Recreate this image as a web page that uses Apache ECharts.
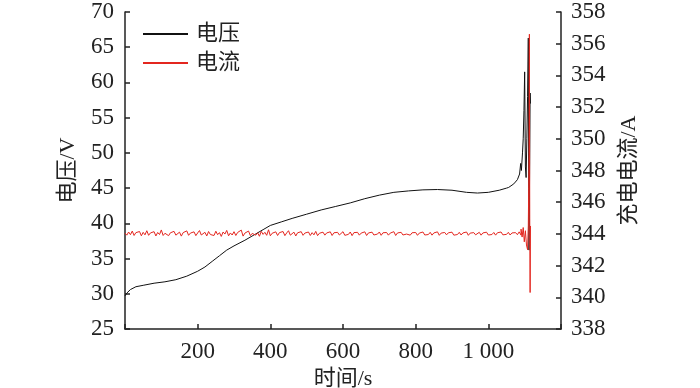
<!DOCTYPE html>
<html><head><meta charset="utf-8">
<script src="https://cdn.jsdelivr.net/npm/echarts@6/dist/echarts.min.js"></script>
<style>html,body{margin:0;padding:0;background:#fff}#c{width:700px;height:388px}</style>
</head><body><div id="c"></div>
<script>
var FONT = '"Liberation Serif", "Noto Sans CJK SC", serif';
var xTicks = [200, 400, 600, 800, 1000];
var xTickLabels = ['200', '400', '600', '800', '1 000'];
var seriesNames = ['电压', '电流'];

// voltage (left axis)
var voltTime = [0,5,15,30,50,80,110,140,170,200,220,240,260,280,300,330,360,380,400,430,460,500,540,580,620,660,700,740,780,820,860,900,940,970,1000,1030,1050,1053,1056,1070,1080,1086,1089,1091,1094,1096,1098,1100,1102,1104,1106,1108,1110,1111,1112,1114,1115,1116];
var voltValue = [29.7,30.1,30.6,31.0,31.2,31.5,31.7,32.0,32.5,33.2,33.8,34.6,35.4,36.2,36.8,37.6,38.5,39.1,39.7,40.2,40.7,41.3,41.9,42.4,42.9,43.5,44.0,44.4,44.6,44.75,44.8,44.7,44.4,44.3,44.4,44.7,45.0,44.8,45.1,45.6,46.2,47.0,48.5,47.5,50,52,56,61.5,48,46.5,52,58,66.3,45,36.2,50,58.5,57];

// current (right axis), sampled every 5 s up to 1080 s
var currStep = 5;
var currValue = [
344.05,343.92,344.12,343.95,344.18,343.90,344.08,343.97,344.15,343.88,
344.10,343.94,344.20,343.91,344.06,343.99,344.14,343.87,344.09,343.96,
344.25,343.90,344.04,344.12,343.89,344.07,343.95,344.16,343.92,344.03,
344.11,343.86,344.08,343.98,344.19,343.91,344.05,343.94,344.13,343.89,
344.06,344.21,343.93,344.02,344.10,343.87,344.15,343.96,344.04,343.90,
344.17,343.95,344.08,343.84,344.12,343.99,344.22,343.88,344.06,343.93,
344.14,343.90,344.09,343.97,344.24,343.86,344.05,343.95,344.18,343.89,
344.03,344.12,343.92,344.07,343.85,344.16,343.97,344.10,343.91,344.26,
343.88,344.04,343.94,344.13,343.90,344.08,343.96,344.15,343.89,344.06,
344.20,343.92,344.03,344.11,343.87,344.07,343.95,344.14,343.91,344.05,
343.98,344.12,343.90,344.08,343.94,344.16,343.89,344.04,343.97,344.11,
343.92,344.06,343.99,344.13,343.90,344.07,343.95,344.10,343.93,344.05,
344.14,343.91,344.03,343.97,344.12,343.89,344.08,343.96,344.10,343.92,
344.05,343.98,344.13,343.90,344.06,343.95,344.11,343.93,344.04,343.99,
344.12,343.91,344.07,343.96,344.09,343.92,344.05,343.97,344.14,343.90,
344.06,343.94,344.10,343.93,344.03,343.99,344.11,343.92,344.07,343.95,
344.09,343.91,344.05,343.98,344.12,343.93,344.04,343.96,344.10,343.92,
344.06,343.97,344.13,343.91,344.05,343.95,344.09,343.94,344.07,343.98,
344.11,343.92,344.04,343.96,344.10,343.93,344.06,343.99,344.12,343.91,
344.05,343.95,344.08,343.94,344.03,344.10,343.92,344.06,343.97,344.11,
343.93,344.05,343.96,344.09,343.92,344.07,343.98,344.12,343.94,344.05,
343.97,344.10,343.93,344.06,343.99,344.08,343.95,344.13,343.92];
// end of charge oscillation
var currEndTime = [1085,1090,1093,1096,1099,1102,1105,1108,1110,1112,1113,1114,1115,1116];
var currEndValue = [344.0,344.3,343.8,344.4,343.5,344.2,343.3,343.0,344.5,349,356.6,345,340.3,344.5];

var voltData = voltTime.map(function(t,i){return [t, voltValue[i]];});
var currData = currValue.map(function(v,i){return [i*currStep, v];});
currEndTime.forEach(function(t,i){currData.push([t, currEndValue[i]]);});

var axisLine = {show:true, lineStyle:{color:'#222', width:1.5}};
var axisTick = {show:true, inside:true, length:5, lineStyle:{color:'#222', width:1.5}};
var tickFont = {fontFamily:FONT, fontSize:23, color:'#222'};
var nameFont = {fontFamily:FONT, fontSize:22, color:'#222'};
var chart = echarts.init(document.getElementById('c'));
chart.setOption({
  animation:false,
  textStyle:{fontFamily:FONT},
  grid:{left:125, right:139, top:12, bottom:59, containLabel:false, outerBoundsMode:'none'},
  legend:{
    orient:'vertical', left:138, top:18, itemWidth:45, itemHeight:2, itemGap:7, icon:'rect',
    data:seriesNames,
    textStyle:{fontFamily:FONT, fontSize:22, color:'#222', lineHeight:22, padding:[0,0,0,3]}
  },
  xAxis:{
    type:'value', min:0, max:1200, interval:200,
    name:'时间/s', nameLocation:'middle', nameGap:33,
    nameTextStyle:nameFont,
    axisLine:axisLine, axisTick:axisTick, splitLine:{show:false},
    axisLabel:Object.assign({margin:11,
      formatter:function(v){var i=xTicks.indexOf(v); return i<0?'':xTickLabels[i];}}, tickFont)
  },
  yAxis:[{
    type:'value', min:25, max:70, interval:5, position:'left',
    name:'电压/V', nameLocation:'middle', nameGap:46, nameRotate:90,
    nameTextStyle:nameFont,
    axisLine:axisLine, axisTick:axisTick, splitLine:{show:false},
    axisLabel:Object.assign({margin:11}, tickFont)
  },{
    type:'value', min:338, max:358, interval:2, position:'right',
    name:'充电电流/A', nameLocation:'middle', nameGap:57, nameRotate:90,
    nameTextStyle:nameFont,
    axisLine:axisLine, axisTick:axisTick, splitLine:{show:false},
    axisLabel:Object.assign({margin:10}, tickFont)
  }],
  series:[{
    name:seriesNames[0], type:'line', yAxisIndex:0, data:voltData, symbol:'none',
    lineStyle:{color:'#111', width:1}, itemStyle:{color:'#111'}, z:2
  },{
    name:seriesNames[1], type:'line', yAxisIndex:1, data:currData, symbol:'none',
    lineStyle:{color:'#e3261f', width:1}, itemStyle:{color:'#e3261f'}, z:3
  }]
});
</script></body></html>
